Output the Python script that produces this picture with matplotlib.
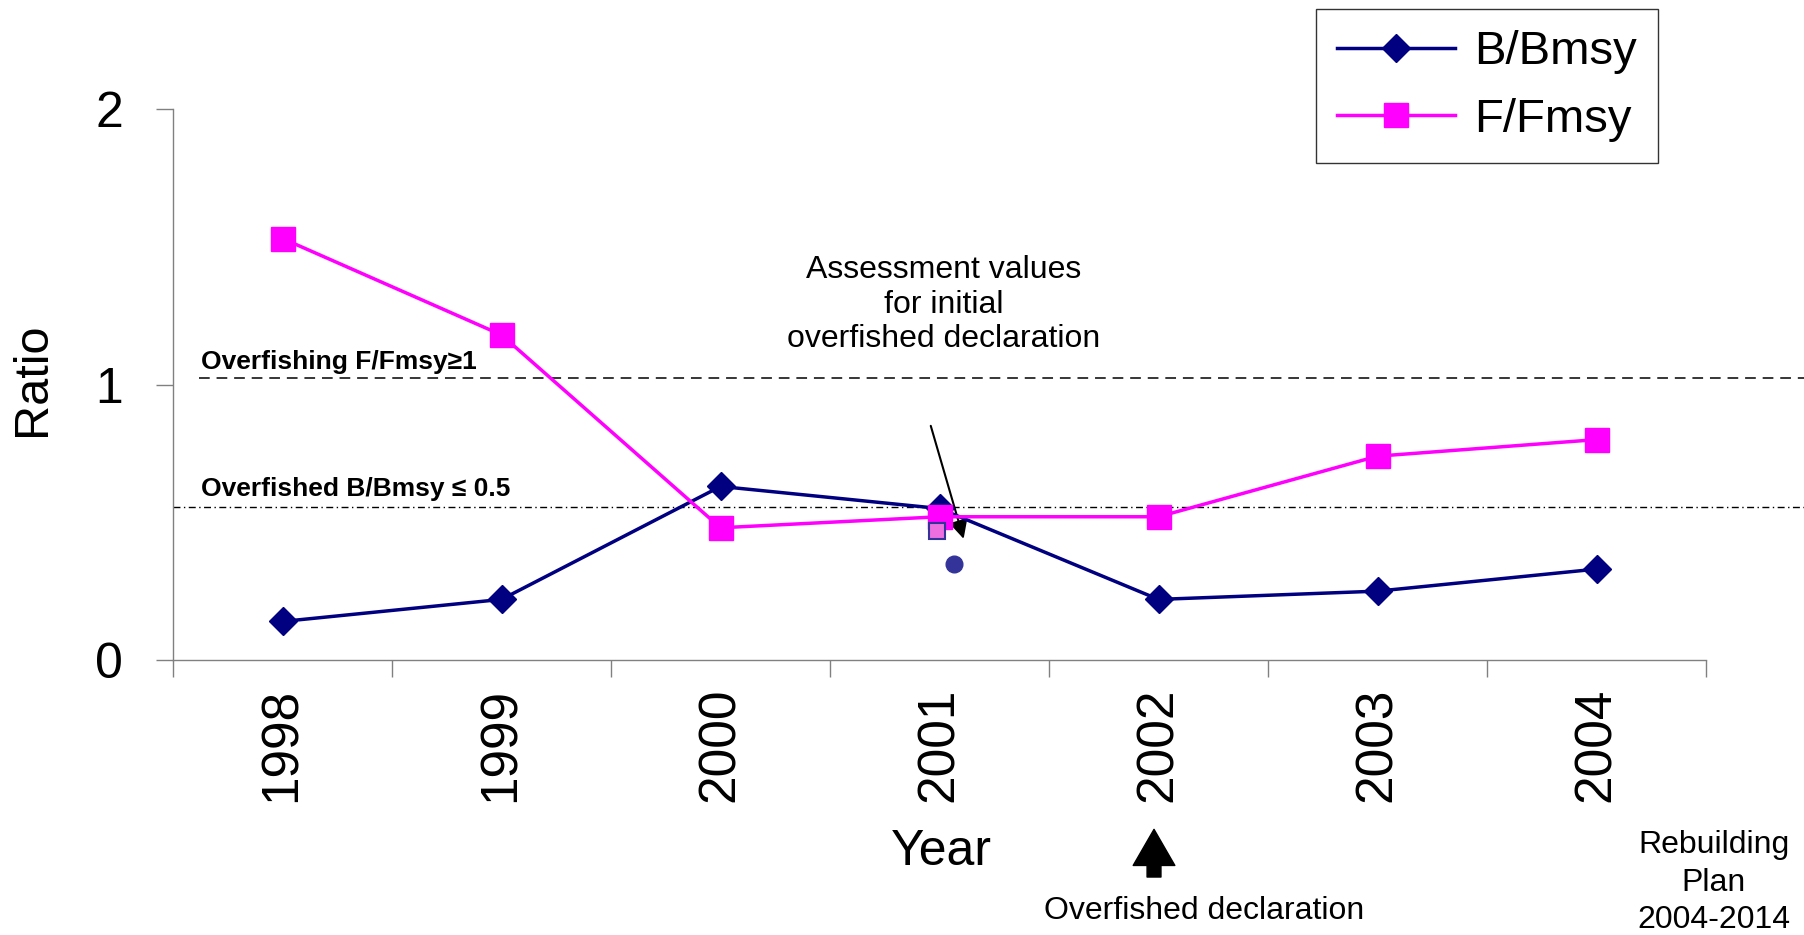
import matplotlib
matplotlib.use("Agg")
import matplotlib.pyplot as plt
import numpy as np

plt.rcParams['font.family'] = ['Liberation Sans', 'DejaVu Sans']

years = ["1998", "1999", "2000", "2001", "2002", "2003", "2004"]
b_bmsy = [0.14, 0.22, 0.63, 0.55, 0.22, 0.25, 0.33]
f_fmsy = [1.53, 1.18, 0.48, 0.52, 0.52, 0.74, 0.80]

# assessment values for initial overfished declaration (2001)
assess_f = 0.47
assess_b = 0.35

overfishing_line = 1.025
overfished_line = 0.555

x = np.arange(1, len(years) + 1)

fig = plt.figure(figsize=(18.04, 9.35), dpi=100)
ax = fig.add_axes([0.0959, 0.2941, 0.8498, 0.5893])

navy = '#000080'
magenta = '#FF00FF'

ax.plot(x, b_bmsy, color=navy, lw=2.5, marker='D', markersize=14,
        markerfacecolor=navy, markeredgecolor=navy, label='B/Bmsy', zorder=4)
ax.plot(x, f_fmsy, color=magenta, lw=2.5, marker='s', markersize=17,
        markerfacecolor=magenta, markeredgecolor=magenta, label='F/Fmsy', zorder=5)

# assessment markers
ax.plot([x[3] - 0.01], [assess_f], marker='s', markersize=11, color='#EE70E0',
        markeredgecolor='#333399', markeredgewidth=1.5, linestyle='none', zorder=6)
ax.plot([x[3] + 0.065], [assess_b], marker='o', markersize=12, color='#333399',
        markeredgecolor='#333399', linestyle='none', zorder=6)

# reference lines
ax.plot([0.62, 7.95], [overfishing_line, overfishing_line], color='black', lw=1.1,
        dashes=(7, 4.5), clip_on=False, zorder=2)
ax.plot([0.5, 7.95], [overfished_line, overfished_line], color='black', lw=1.0,
        dashes=(5, 2.5, 1, 2.5), clip_on=False, zorder=2)

ax.text(0.63, 1.058, 'Overfishing F/Fmsy\u22651', fontsize=19, fontweight='bold',
        va='baseline', ha='left')
ax.text(0.63, 0.594, 'Overfished B/Bmsy \u2264 0.5', fontsize=19, fontweight='bold',
        va='baseline', ha='left')

ax.text(4.02, 1.29, 'Assessment values\nfor initial\noverfished declaration',
        fontsize=23, ha='center', va='center', linespacing=1.2)
ax.annotate('', xy=(4.11, 0.44), xytext=(3.96, 0.85),
            arrowprops=dict(arrowstyle='-|>', color='black', lw=1.5,
                            mutation_scale=28, shrinkA=0, shrinkB=0))

ax.set_xlim(0.5, 7.5)
ax.set_ylim(0, 2)
ax.set_yticks([0, 1, 2])
ax.set_yticklabels(['0', '1', '2'], fontsize=36)
ax.set_xticks(np.arange(0.5, 8.0, 1.0))
ax.set_xticklabels([])
ax.set_xticks(x, minor=True)
ax.set_xticklabels(years, minor=True, rotation=90, fontsize=37)
ax.tick_params(axis='x', which='minor', length=0, pad=20)
ax.tick_params(axis='x', which='major', length=12, width=1, color='#808080')
ax.tick_params(axis='y', length=12, width=1, color='#808080', pad=24)

for side in ['top', 'right']:
    ax.spines[side].set_visible(False)
for side in ['left', 'bottom']:
    ax.spines[side].set_color('#808080')
    ax.spines[side].set_linewidth(1)

fig.text(0.5217, 0.089, 'Year', fontsize=36, ha='center', va='center')
fig.text(0.018, 0.594, 'Ratio', fontsize=35, ha='center', va='center', rotation=90)

# overfished declaration arrow
ax.annotate('', xy=(0.6397, 0.113), xytext=(0.6397, 0.062), xycoords='figure fraction',
            textcoords='figure fraction',
            arrowprops=dict(arrowstyle='simple,head_width=1.5,head_length=1.3,tail_width=0.5',
                            color='black', mutation_scale=20, shrinkA=0, shrinkB=0))
fig.text(0.6677, 0.026, 'Overfished declaration', fontsize=23, ha='center', va='center')
fig.text(0.950, 0.056, 'Rebuilding\nPlan\n2004-2014', fontsize=23, ha='center',
         va='center', linespacing=1.32)

leg = fig.legend(loc='upper left', bbox_to_anchor=(1316 / 1804, 1 - 9 / 935),
                 fontsize=34, frameon=True, fancybox=False, borderaxespad=0,
                 handlelength=2.5, handletextpad=0.4, borderpad=0.45,
                 labelspacing=0.5)
leg.get_frame().set_edgecolor('black')
leg.get_frame().set_linewidth(1)

fig.savefig('out.png', dpi=100)
